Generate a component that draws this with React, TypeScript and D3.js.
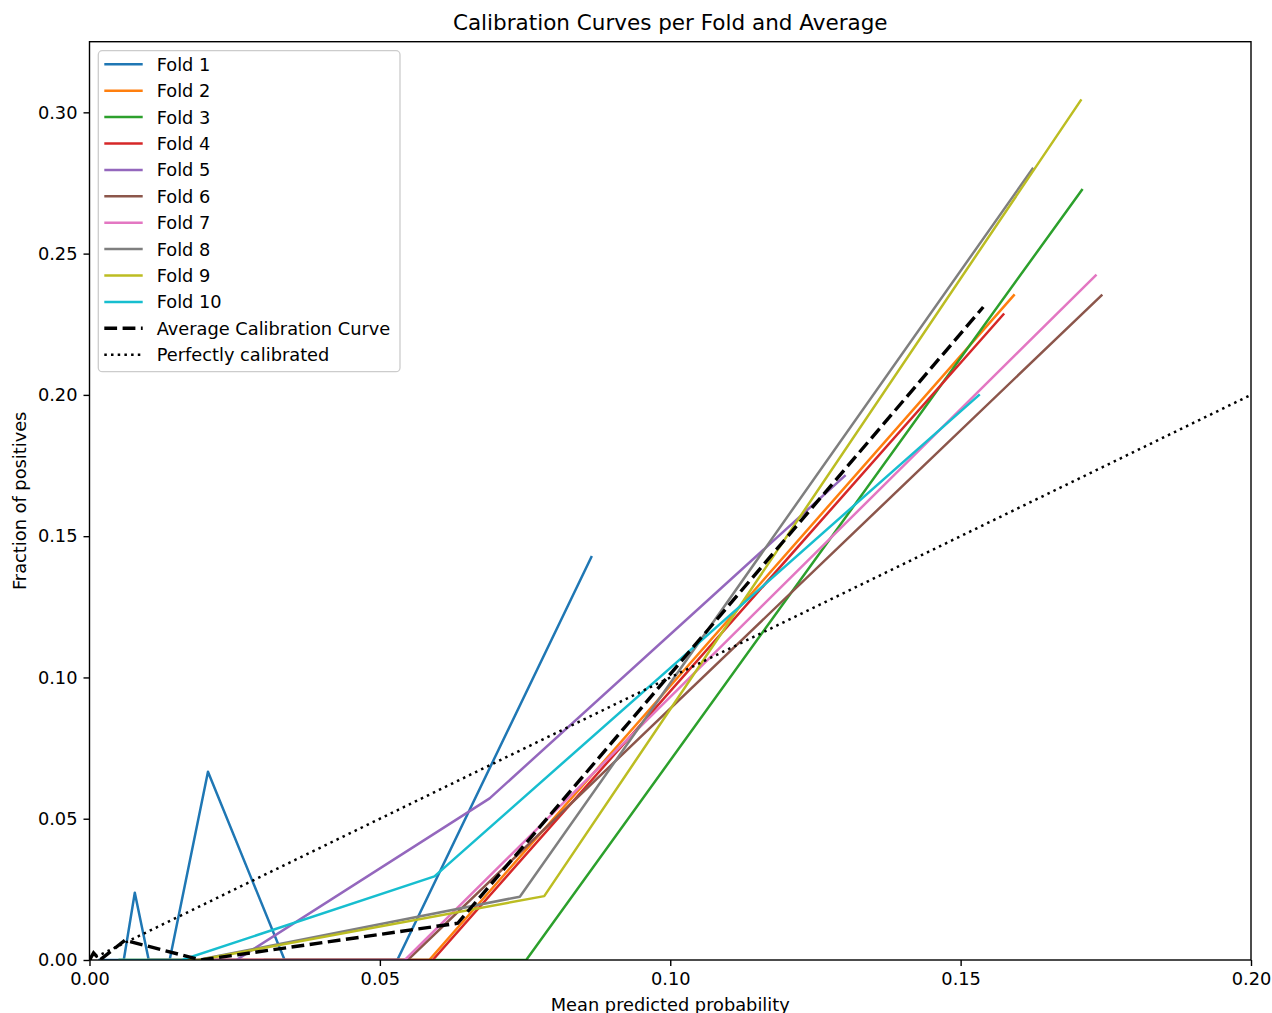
import React, { useEffect, useRef } from 'react';
import * as d3 from 'd3';

// values
const foldNames = ['Fold 1', 'Fold 2', 'Fold 3', 'Fold 4', 'Fold 5', 'Fold 6', 'Fold 7', 'Fold 8', 'Fold 9', 'Fold 10'];
const foldColors = ['#1f77b4', '#ff7f0e', '#2ca02c', '#d62728', '#9467bd', '#8c564b', '#e377c2', '#7f7f7f', '#bcbd22', '#17becf'];

const foldX = [
  [0.0015, 0.0059, 0.0078, 0.0102, 0.0138, 0.0204, 0.0336, 0.053, 0.0865],
  [0.01, 0.0585, 0.1593],
  [0.03, 0.0752, 0.171],
  [0.02, 0.0591, 0.1575],
  [0.01, 0.0253, 0.0689, 0.1302],
  [0.02, 0.0548, 0.1744],
  [0.018, 0.0543, 0.1734],
  [0.005, 0.0186, 0.0741, 0.1625],
  [0.005, 0.0188, 0.0783, 0.1708],
  [0.005, 0.0159, 0.0594, 0.1533],
];
const foldY = [
  [0, 0, 0.0238, 0, 0, 0.0666, 0, 0, 0.143],
  [0, 0, 0.2356],
  [0, 0, 0.2729],
  [0, 0, 0.2288],
  [0, 0, 0.0572, 0.1716],
  [0, 0, 0.2355],
  [0, 0, 0.2426],
  [0, 0, 0.0224, 0.2804],
  [0, 0, 0.0226, 0.3046],
  [0, 0, 0.0296, 0.2002],
];

const avgX = [0, 0.0007, 0.0018, 0.0061, 0.0192, 0.0634, 0.1539];
const avgY = [0, 0.0025, 0, 0.007, 0, 0.013, 0.2311];

const perfectX = [0, 1];
const perfectY = [0, 1];

const xTicks = [0, 0.05, 0.1, 0.15, 0.2];
const yTicks = [0, 0.05, 0.1, 0.15, 0.2, 0.25, 0.3];

const W = 1272;
const H = 1013;
const margin = { top: 41.7, right: 21, bottom: 53, left: 89.5 };
const font = 'DejaVu Sans, sans-serif';
const fs = 17.8;

const App = () => {
  const xAxisRef = useRef<SVGGElement>(null);
  const yAxisRef = useRef<SVGGElement>(null);

  const x = d3.scaleLinear().domain([0, 0.2]).range([margin.left, W - margin.right]);
  const y = d3.scaleLinear().domain([0, 0.325]).range([H - margin.bottom, margin.top]);

  const line = d3.line<[number, number]>()
    .x(d => x(d[0]))
    .y(d => y(d[1]));

  const pts = (xs: number[], ys: number[]) => xs.map((v, i) => [v, ys[i]] as [number, number]);

  useEffect(() => {
    const xAxis = d3.axisBottom(x).tickValues(xTicks).tickFormat(d3.format('.2f')).tickSize(6).tickPadding(6);
    const yAxis = d3.axisLeft(y).tickValues(yTicks).tickFormat(d3.format('.2f')).tickSize(6).tickPadding(6);

    const gx = d3.select(xAxisRef.current!);
    gx.call(xAxis);
    const gy = d3.select(yAxisRef.current!);
    gy.call(yAxis);

    [gx, gy].forEach(g => {
      g.select('.domain').remove();
      g.selectAll('line').attr('stroke', '#000').attr('stroke-width', 1.4);
      g.selectAll('text').attr('fill', '#000').style('font-family', font).style('font-size', fs + 'px');
    });
  }, []);

  const legendItems = [
    ...foldNames.map((n, i) => ({ name: n, color: foldColors[i], dash: '', width: 2.5 })),
    { name: 'Average Calibration Curve', color: '#000', dash: '12.8,5.5', width: 3.4 },
    { name: 'Perfectly calibrated', color: '#000', dash: '2.5,4.2', width: 2.5 },
  ];

  return (
    <svg width={W} height={H} style={{ position: 'absolute', left: 0, top: 0, background: '#fff' }}>
      <defs>
        <clipPath id="plot-clip">
          <rect x={margin.left} y={margin.top} width={W - margin.left - margin.right} height={H - margin.top - margin.bottom} />
        </clipPath>
      </defs>

      <g clipPath="url(#plot-clip)" fill="none">
        {foldX.map((xs, i) => (
          <path key={i} d={line(pts(xs, foldY[i])) || ''} stroke={foldColors[i]} strokeWidth={2.5} strokeLinejoin="round" />
        ))}
        <path d={line(pts(avgX, avgY)) || ''} stroke="#000" strokeWidth={3.4} strokeDasharray="12.8,5.5" />
        <path d={line(pts(perfectX, perfectY)) || ''} stroke="#000" strokeWidth={2.5} strokeDasharray="2.5,4.2" />
      </g>

      {/* spines */}
      <rect x={margin.left} y={margin.top} width={W - margin.left - margin.right} height={H - margin.top - margin.bottom}
        fill="none" stroke="#000" strokeWidth={1.4} />

      <g ref={xAxisRef} transform={`translate(0,${H - margin.bottom})`} />
      <g ref={yAxisRef} transform={`translate(${margin.left},0)`} />

      <text x={(margin.left + W - margin.right) / 2} y={29.5} textAnchor="middle" fontFamily={font} fontSize={21.5}>
        Calibration Curves per Fold and Average
      </text>
      <text x={(margin.left + W - margin.right) / 2} y={1010.5} textAnchor="middle" fontFamily={font} fontSize={fs}>
        Mean predicted probability
      </text>
      <text transform={`translate(26,${(margin.top + H - margin.bottom) / 2}) rotate(-90)`} textAnchor="middle"
        fontFamily={font} fontSize={fs}>
        Fraction of positives
      </text>

      {/* legend */}
      <g>
        <rect x={98.3} y={50.7} width={301.7} height={321} rx={4} fill="#fff" fillOpacity={0.8} stroke="#cccccc" strokeWidth={1.3} />
        {legendItems.map((it, i) => {
          const cy = 64.3 + 26.4 * i;
          return (
            <g key={it.name}>
              <line x1={104.3} x2={142.7} y1={cy} y2={cy} stroke={it.color} strokeWidth={it.width} strokeDasharray={it.dash} />
              <text x={156.7} y={cy + 6.5} fontFamily={font} fontSize={fs}>{it.name}</text>
            </g>
          );
        })}
      </g>
    </svg>
  );
};

export default App;
